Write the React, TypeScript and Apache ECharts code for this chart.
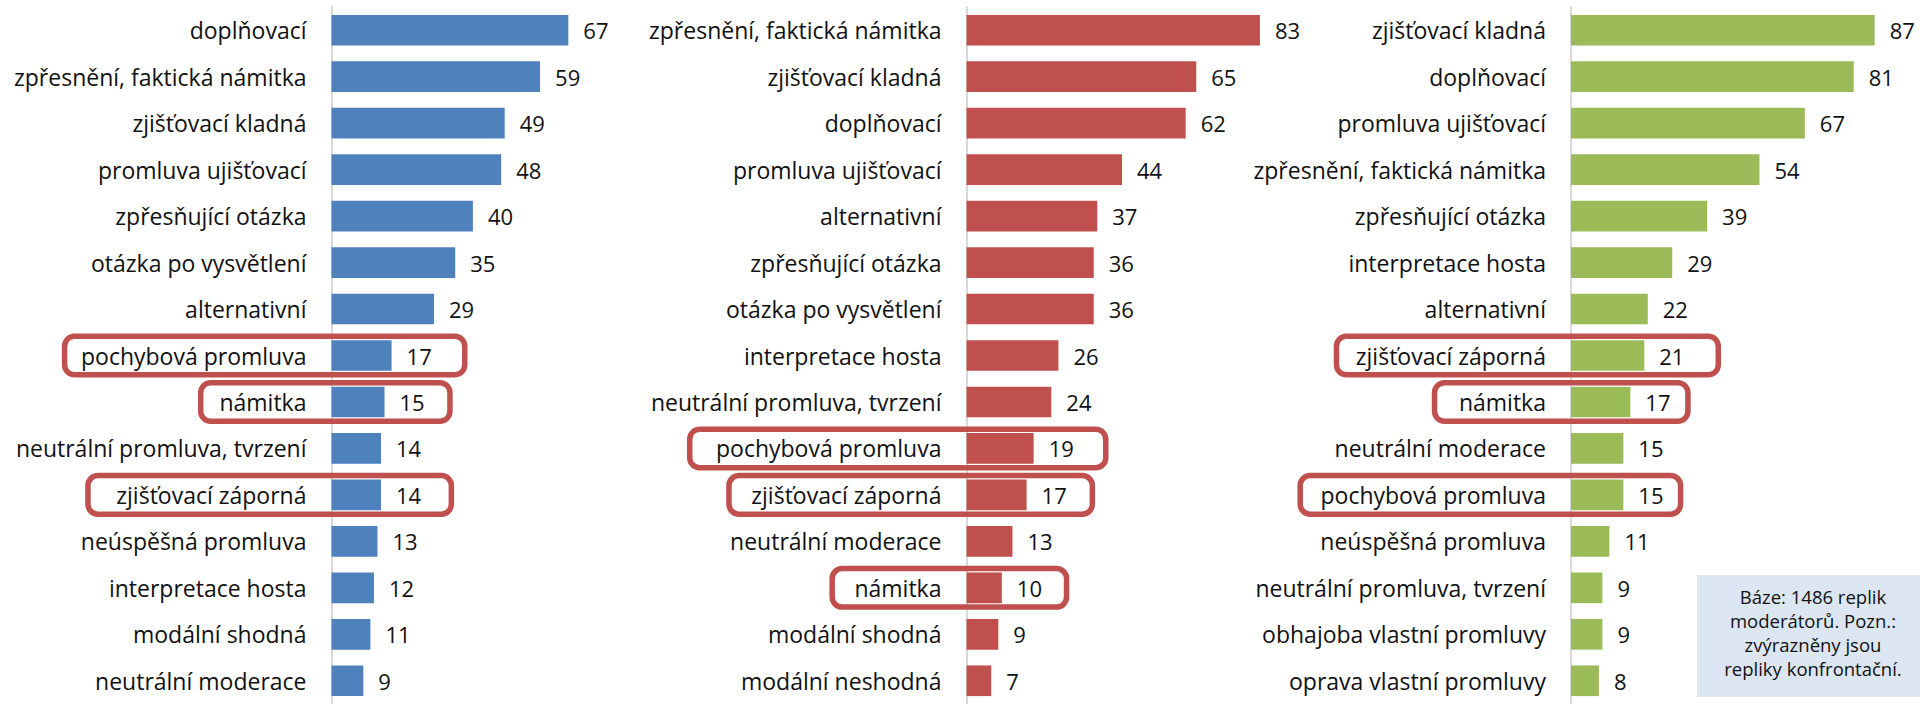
import React, { useEffect, useRef } from "react";
import * as echarts from "echarts";

const categoriesBlue = [
  "doplňovací",
  "zpřesnění, faktická námitka",
  "zjišťovací kladná",
  "promluva ujišťovací",
  "zpřesňující otázka",
  "otázka po vysvětlení",
  "alternativní",
  "pochybová promluva",
  "námitka",
  "neutrální promluva, tvrzení",
  "zjišťovací záporná",
  "neúspěšná promluva",
  "interpretace hosta",
  "modální shodná",
  "neutrální moderace",
];
const valuesBlue = [67, 59, 49, 48, 40, 35, 29, 17, 15, 14, 14, 13, 12, 11, 9];

const categoriesRed = [
  "zpřesnění, faktická námitka",
  "zjišťovací kladná",
  "doplňovací",
  "promluva ujišťovací",
  "alternativní",
  "zpřesňující otázka",
  "otázka po vysvětlení",
  "interpretace hosta",
  "neutrální promluva, tvrzení",
  "pochybová promluva",
  "zjišťovací záporná",
  "neutrální moderace",
  "námitka",
  "modální shodná",
  "modální neshodná",
];
const valuesRed = [83, 65, 62, 44, 37, 36, 36, 26, 24, 19, 17, 13, 10, 9, 7];

const categoriesGreen = [
  "zjišťovací kladná",
  "doplňovací",
  "promluva ujišťovací",
  "zpřesnění, faktická námitka",
  "zpřesňující otázka",
  "interpretace hosta",
  "alternativní",
  "zjišťovací záporná",
  "námitka",
  "neutrální moderace",
  "pochybová promluva",
  "neúspěšná promluva",
  "neutrální promluva, tvrzení",
  "obhajoba vlastní promluvy",
  "oprava vlastní promluvy",
];
const valuesGreen = [87, 81, 67, 54, 39, 29, 22, 21, 17, 15, 15, 11, 9, 9, 8];

// highlighted (confrontational) replies: panel, category, box extent in axis units
const highlightPanel = [0, 0, 0, 1, 1, 1, 2, 2, 2];
const highlightCategory = [
  "pochybová promluva",
  "námitka",
  "zjišťovací záporná",
  "pochybová promluva",
  "zjišťovací záporná",
  "námitka",
  "zjišťovací záporná",
  "námitka",
  "pochybová promluva",
];
const highlightFrom = [-75.5, -37, -68.9, -78.3, -67.2, -38, -67.2, -39.1, -77.6];
const highlightTo = [37.7, 33.5, 33.9, 39.4, 35.6, 28.3, 42.2, 33.5, 31.4];

const noteLines = [
  "Báze: 1486 replik",
  "moderátorů. Pozn.:",
  "zvýrazněny jsou",
  "repliky konfrontační.",
];

const FONT = "Open Sans";
const TEXT = "#111111";

export default function App() {
  const ref = useRef<HTMLDivElement>(null);

  useEffect(() => {
    if (!ref.current) return;
    const chart = echarts.init(ref.current, null, { renderer: "svg" });
    const panels = [
      { cats: categoriesBlue, vals: valuesBlue, color: "#4f81bd", left: 331.5 },
      { cats: categoriesRed, vals: valuesRed, color: "#c0504d", left: 966.5 },
      { cats: categoriesGreen, vals: valuesGreen, color: "#9bbb59", left: 1571 },
    ];

    chart.setOption({
      animation: false,
      grid: panels.map((p) => ({
        left: p.left,
        top: 7,
        width: 353.5,
        height: 706.5,
        containLabel: false,
      })),
      xAxis: panels.map((_, i) => ({
        type: "value",
        gridIndex: i,
        min: 0,
        max: 100,
        show: false,
      })),
      yAxis: panels.map((p, i) => ({
        type: "category",
        gridIndex: i,
        data: p.cats,
        inverse: true,
        axisTick: { show: false },
        axisLine: { show: true, lineStyle: { color: "#d9d9d9", width: 2 } },
        axisLabel: {
          fontFamily: FONT,
          fontSize: 23,
          color: TEXT,
          margin: 25,
          padding: [6, 0, 0, 0],
        },
        splitLine: { show: false },
      })),
      series: panels.map((p, i) => ({
        type: "bar",
        xAxisIndex: i,
        yAxisIndex: i,
        data: p.vals,
        barCategoryGap: "34%",
        itemStyle: { color: p.color },
        label: {
          show: true,
          position: "right",
          distance: 15,
          fontFamily: FONT,
          fontSize: 22,
          color: TEXT,
          padding: [6, 0, 0, 0],
        },
      })),
    });

    const boxes = highlightCategory.map((cat, k) => {
      const pi = highlightPanel[k];
      const idx = panels[pi].cats.indexOf(cat);
      const a = chart.convertToPixel({ gridIndex: pi }, [highlightFrom[k], idx]) as number[];
      const b = chart.convertToPixel({ gridIndex: pi }, [highlightTo[k], idx]) as number[];
      const c0 = chart.convertToPixel({ gridIndex: pi }, [0, 0]) as number[];
      const c1 = chart.convertToPixel({ gridIndex: pi }, [0, 1]) as number[];
      const pitch = Math.abs(c1[1] - c0[1]);
      const h = pitch * 0.83;
      return {
        type: "rect",
        z: 100,
        shape: { x: a[0], y: a[1] - h / 2, width: b[0] - a[0], height: h, r: 10 },
        style: { fill: "none", stroke: "#c0504d", lineWidth: 5.5 },
      };
    });

    chart.setOption({
      graphic: [
        {
          type: "rect",
          z: 50,
          shape: { x: 1697, y: 575, width: 240, height: 122 },
          style: { fill: "#dce6f2" },
        },
        {
          type: "text",
          z: 51,
          x: 1813,
          y: 632,
          style: {
            text: noteLines.join("\n"),
            fontFamily: FONT,
            fontSize: 18.5,
            lineHeight: 24,
            fill: TEXT,
            align: "center",
            verticalAlign: "middle",
          },
        },
        ...boxes,
      ],
    });

    return () => chart.dispose();
  }, []);

  return (
    <div
      ref={ref}
      style={{ position: "fixed", left: 0, top: 0, width: 1920, height: 704, background: "#fff" }}
    />
  );
}
